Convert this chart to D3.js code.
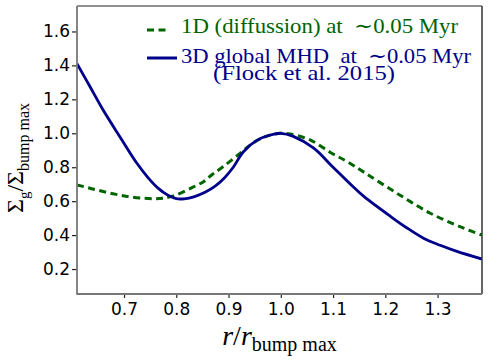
<!DOCTYPE html>
<html>
<head>
<meta charset="utf-8">
<script src="https://cdn.jsdelivr.net/npm/d3@7"></script>
<style>
  body { margin: 0; background: #fff; }
  .tick text { font-family: "DejaVu Sans", sans-serif; font-size: 17px; fill: #000; }
  .serif { font-family: "Liberation Serif", "DejaVu Serif", serif; }
</style>
</head>
<body>
<svg id="chart" width="491" height="363"></svg>
<script>
// 3D global MHD (Flock et al. 2015)
const rMhd = [0.61, 0.635, 0.66, 0.692, 0.724, 0.745, 0.765, 0.783, 0.80, 0.815, 0.835, 0.855, 0.875, 0.892, 0.909, 0.928, 0.954, 0.98, 1.0, 1.024, 1.063, 1.1, 1.14, 1.16, 1.21, 1.24, 1.273, 1.305, 1.337, 1.385];
const sMhd = [1.41, 1.274, 1.137, 0.98, 0.826, 0.742, 0.677, 0.637, 0.615, 0.614, 0.627, 0.652, 0.69, 0.737, 0.80, 0.89, 0.958, 0.99, 1.0, 0.982, 0.912, 0.80, 0.68, 0.625, 0.51, 0.445, 0.382, 0.34, 0.304, 0.259];

// 1D diffusion model
const rDiff = [0.61, 0.64, 0.674, 0.706, 0.738, 0.76, 0.776, 0.798, 0.83, 0.852, 0.87, 0.89, 0.922, 0.948, 0.975, 1.0, 1.018, 1.056, 1.095, 1.127, 1.162, 1.222, 1.286, 1.35, 1.385];
const sDiff = [0.696, 0.672, 0.647, 0.628, 0.617, 0.614, 0.618, 0.635, 0.68, 0.715, 0.76, 0.804, 0.882, 0.945, 0.985, 1.0, 0.996, 0.961, 0.887, 0.833, 0.765, 0.647, 0.529, 0.441, 0.40];

const xTicks = [0.7, 0.8, 0.9, 1.0, 1.1, 1.2, 1.3];
const yTicks = [0.2, 0.4, 0.6, 0.8, 1.0, 1.2, 1.4, 1.6];

const legendItems = [
  { label: "1D (diffussion) at \u00A0\u223C0.05 Myr", color: "#006400", dash: "7,4.5", len: 277 },
  { label: "3D global MHD \u00A0at \u00A0\u223C0.05 Myr", color: "#00008b", dash: null, len: 290 }
];

const margin = { left: 77, top: 6, right: 9, bottom: 69 };
const width = 491, height = 363;

const svg = d3.select('#chart');

const x = d3.scaleLinear()
  .domain([0.61, 1.385])
  .range([margin.left, width - margin.right]);
const y = d3.scaleLinear()
  .domain([0.053, 1.75])
  .range([height - margin.bottom, margin.top]);

const line = d3.line()
  .x(d => x(d[0]))
  .y(d => y(d[1]))
  .curve(d3.curveCatmullRom.alpha(0.5));

svg.append('defs').append('clipPath').attr('id', 'clip')
  .append('rect')
  .attr('x', margin.left).attr('y', margin.top)
  .attr('width', width - margin.left - margin.right)
  .attr('height', height - margin.top - margin.bottom);

const plot = svg.append('g').attr('clip-path', 'url(#clip)');

plot.append('path')
  .datum(d3.zip(rDiff, sDiff))
  .attr('fill', 'none')
  .attr('stroke', '#006400')
  .attr('stroke-width', 3)
  .attr('stroke-dasharray', '7,4.5')
  .attr('d', line);

plot.append('path')
  .datum(d3.zip(rMhd, sMhd))
  .attr('fill', 'none')
  .attr('stroke', '#00008b')
  .attr('stroke-width', 2.8)
  .attr('d', line);

// axes
const xAxis = svg.append('g')
  .attr('transform', `translate(0,${height - margin.bottom})`)
  .call(d3.axisBottom(x).tickValues(xTicks).tickFormat(d3.format('.1f')).tickSize(4).tickPadding(5));
const yAxis = svg.append('g')
  .attr('transform', `translate(${margin.left},0)`)
  .call(d3.axisLeft(y).tickValues(yTicks).tickFormat(d3.format('.1f')).tickSize(5).tickPadding(2));
xAxis.select('.domain').remove();
yAxis.select('.domain').remove();
svg.selectAll('.tick line').attr('stroke', '#222').attr('stroke-width', 1.2);

// frame
const x0 = margin.left, x1 = width - margin.right, y0 = margin.top, y1 = height - margin.bottom;
svg.append('line').attr('x1', x0).attr('x2', x1).attr('y1', y0).attr('y2', y0).attr('stroke', '#222').attr('stroke-width', 1.2);
svg.append('line').attr('x1', x1).attr('x2', x1).attr('y1', y0).attr('y2', y1).attr('stroke', '#333').attr('stroke-width', 1.5);
svg.append('line').attr('x1', x0).attr('x2', x0).attr('y1', y0).attr('y2', y1 + 0.75).attr('stroke', '#777').attr('stroke-width', 1.8);
svg.append('line').attr('x1', x0).attr('x2', x1).attr('y1', y1).attr('y2', y1).attr('stroke', '#777').attr('stroke-width', 1.8);

// legend
const legend = svg.append('g');
legend.append('line')
  .attr('x1', 147).attr('x2', 166).attr('y1', 30).attr('y2', 30)
  .attr('stroke', legendItems[0].color).attr('stroke-width', 3)
  .attr('stroke-dasharray', legendItems[0].dash);
legend.append('line')
  .attr('x1', 147).attr('x2', 177).attr('y1', 58).attr('y2', 58)
  .attr('stroke', legendItems[1].color).attr('stroke-width', 3);
legend.selectAll('text.lab')
  .data(legendItems)
  .join('text')
  .attr('class', 'lab serif')
  .attr('x', 181)
  .attr('y', (d, i) => i === 0 ? 33 : 63)
  .attr('font-size', 21)
  .attr('textLength', d => d.len)
  .attr('lengthAdjust', 'spacingAndGlyphs')
  .attr('fill', d => d.color)
  .text(d => d.label);
legend.append('text')
  .attr('class', 'serif')
  .attr('x', 213).attr('y', 80)
  .attr('font-size', 21)
  .attr('textLength', 182)
  .attr('lengthAdjust', 'spacingAndGlyphs')
  .attr('fill', '#00008b')
  .text('(Flock et al. 2015)');

// axis labels
const xl = svg.append('text')
  .attr('class', 'serif')
  .attr('x', (x0 + x1) / 2).attr('y', 345)
  .attr('text-anchor', 'middle')
  .attr('font-size', 28);
xl.append('tspan').attr('font-style', 'italic').text('r');
xl.append('tspan').text('/');
xl.append('tspan').attr('font-style', 'italic').text('r');
xl.append('tspan').attr('font-size', 20).attr('dy', 6).text('bump max');

const yl = svg.append('text')
  .attr('class', 'serif')
  .attr('transform', 'translate(23,158) rotate(-90)')
  .attr('text-anchor', 'middle')
  .attr('font-size', 24);
yl.append('tspan').text('\u03A3');
yl.append('tspan').attr('font-size', 15).attr('dy', 6).text('g');
yl.append('tspan').attr('dy', -6).text('/\u03A3');
yl.append('tspan').attr('font-size', 16).attr('dy', 6).text('bump max');
</script>
</body>
</html>
